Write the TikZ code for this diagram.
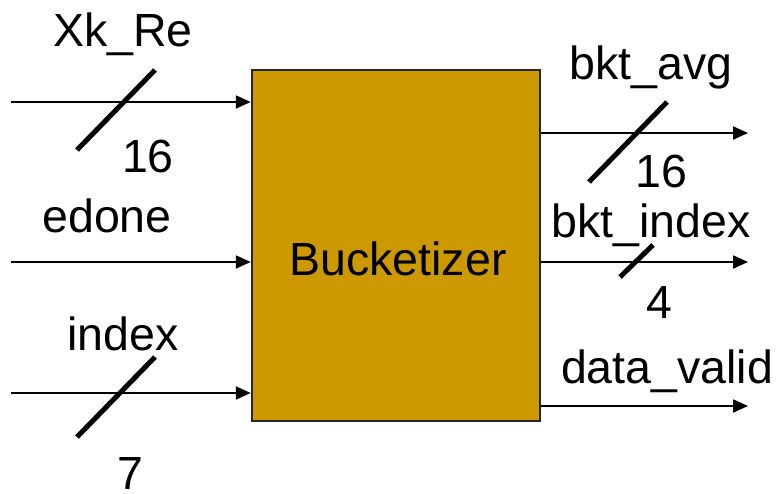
\documentclass[tikz,border=0pt]{standalone}
\usepackage{fontspec}
\setmainfont{Liberation Sans}
\usetikzlibrary{arrows.meta}
\definecolor{boxfill}{HTML}{CC9900}
\begin{document}
\begin{tikzpicture}[x=1pt,y=-1pt,
  lbl/.style={anchor=base,inner sep=0pt,font=\fontsize{46.5}{50}\selectfont},
  sig/.style={line width=2pt,-{Triangle[length=15pt,width=13pt]}},
  bus/.style={line width=5pt},
  blk/.style={draw=black!85,line width=2.5pt,fill=boxfill,minimum width=288pt,minimum height=351pt,inner sep=0pt}]
\useasboundingbox (0,0) rectangle (781,494);
\node[blk] (box) at (396,245.5) {};
\node[lbl] (btxt) at (398,276) {Bucketizer};
% inputs
\coordinate (i1) at (11,102);
\coordinate (i2) at (11,262);
\coordinate (i3) at (11,393);
\draw[sig] (i1) -- (box.west |- i1);
\draw[sig] (i2) -- (box.west |- i2);
\draw[sig] (i3) -- (box.west |- i3);
\coordinate (s1a) at (77,150); \coordinate (s1b) at (155,70);
\draw[bus] (s1a) -- (s1b);
\coordinate (s3a) at (77,437); \coordinate (s3b) at (155,357);
\draw[bus] (s3a) -- (s3b);
\node[lbl] (l1) at (123,47) {Xk\_Re};
\node[lbl] (n1) at (148,173) {16};
\node[lbl] (l2) at (107,233) {edone};
\node[lbl] (l3) at (123,350) {index};
\node[lbl] (n3) at (130,489) {7};
% outputs
\coordinate (o1) at (748,133);
\coordinate (o2) at (748,262);
\coordinate (o3) at (748,406);
\draw[sig] (box.east |- o1) -- (o1);
\draw[sig] (box.east |- o2) -- (o2);
\draw[sig] (box.east |- o3) -- (o3);
\coordinate (t1a) at (589,182); \coordinate (t1b) at (667,102);
\draw[bus] (t1a) -- (t1b);
\coordinate (t2a) at (620,277); \coordinate (t2b) at (653,245);
\draw[bus] (t2a) -- (t2b);
\node[lbl] (r1) at (651,80) {bkt\_avg};
\node[lbl] (m1) at (661,188) {16};
\node[lbl] (r2) at (651,237) {bkt\_index};
\node[lbl] (m2) at (659,318) {4};
\node[lbl] (r3) at (667,383) {data\_valid};
\end{tikzpicture}
\end{document}
